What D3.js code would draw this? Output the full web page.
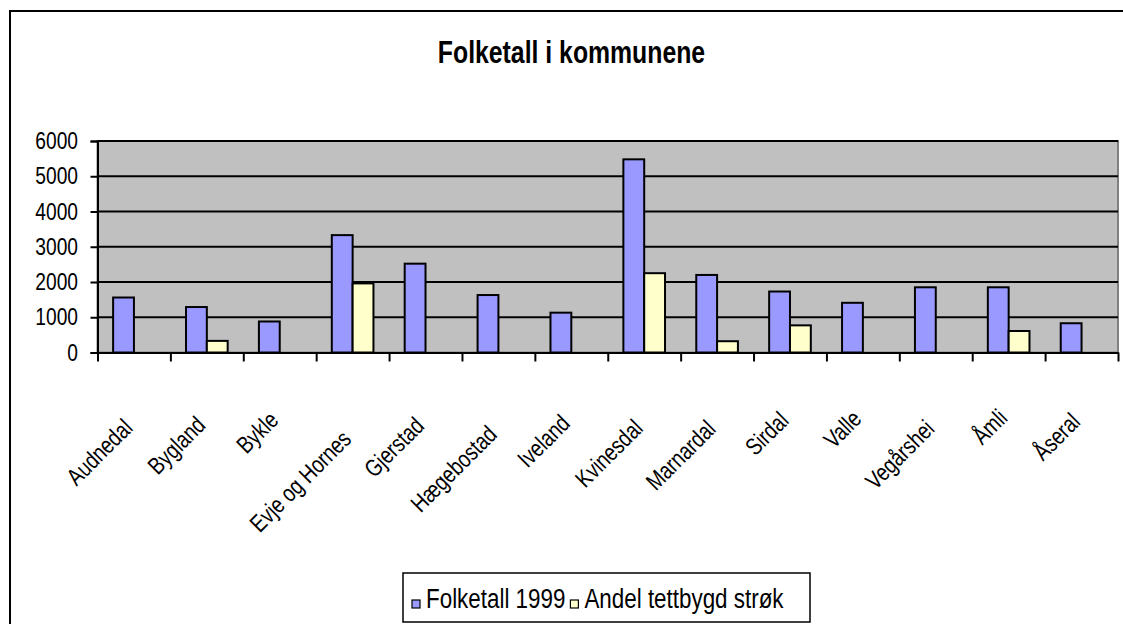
<!DOCTYPE html>
<html>
<head>
<meta charset="utf-8">
<script src="https://cdn.jsdelivr.net/npm/d3@7"></script>
<style>
  body { margin: 0; background: #fff; }
  text { font-family: "Liberation Sans", Arial, sans-serif; fill: #000; }
</style>
</head>
<body>
<div class="chart"></div>
<script>
// data
var categories = ["Audnedal", "Bygland", "Bykle", "Evje og Hornes", "Gjerstad", "Hægebostad", "Iveland",
    "Kvinesdal", "Marnardal", "Sirdal", "Valle", "Vegårshei", "Åmli", "Åseral"];
var folketall = [1560, 1290, 880, 3330, 2520, 1630, 1130, 5480, 2200, 1730, 1410, 1850, 1850, 830];
var andel = [null, 330, null, 1960, null, null, null, 2250, 320, 770, null, null, 610, null];
var seriesNames = ["Folketall 1999", "Andel tettbygd strøk"];
var yTicks = [0, 1000, 2000, 3000, 4000, 5000, 6000];

var colors = ["#9999ff", "#ffffcc"];

// text in the original is condensed sideways
var SX = 0.8;
var svgWidth = 1123;
var svgHeight = 624;

var plot = { left: 97.5, right: 1118, top: 141, bottom: 352.5 };

var svg = d3.select(".chart")
    .append("svg")
    .attr("width", svgWidth)
    .attr("height", svgHeight)
    .style("display", "block");

// outer chart border (runs off the right and bottom)
svg.append("rect")
    .attr("x", 10)
    .attr("y", 11)
    .attr("width", svgWidth)
    .attr("height", svgHeight)
    .attr("fill", "#fff")
    .attr("stroke", "#000")
    .attr("stroke-width", 2);

svg.append("text")
    .attr("transform", `translate(571.5,63)scale(${SX},1)`)
    .attr("text-anchor", "middle")
    .attr("font-size", 31)
    .attr("font-weight", "bold")
    .text("Folketall i kommunene");

var x0 = d3.scaleBand()
    .domain(categories)
    .range([plot.left, plot.right])
    .padding(0);

var x1 = d3.scaleBand()
    .domain(seriesNames)
    .range([0, x0.bandwidth()])
    .paddingInner(0)
    .paddingOuter(0.75);

var xEdge = d3.scaleLinear()
    .domain([0, categories.length])
    .range([plot.left, plot.right]);

var yScale = d3.scaleLinear()
    .domain([0, 6000])
    .range([plot.bottom, plot.top]);

// plot area
svg.append("rect")
    .attr("x", plot.left)
    .attr("y", plot.top)
    .attr("width", plot.right - plot.left)
    .attr("height", plot.bottom - plot.top)
    .attr("fill", "#c0c0c0")
    .attr("stroke", "#808080")
    .attr("stroke-width", 2);

// gridlines
svg.append("g")
    .selectAll("line")
    .data(yTicks.slice(1))
    .enter()
    .append("line")
    .attr("x1", plot.left)
    .attr("x2", plot.right)
    .attr("y1", function (d) { return yScale(d); })
    .attr("y2", function (d) { return yScale(d); })
    .attr("stroke", "#000")
    .attr("stroke-width", 1.8);

// bars
var rows = categories.map(function (c, i) {
    return { cat: c, values: [folketall[i], andel[i]] };
});

var groups = svg.append("g")
    .selectAll("g")
    .data(rows)
    .enter()
    .append("g")
    .attr("transform", function (d) { return `translate(${x0(d.cat)},0)`; });

groups.selectAll("rect")
    .data(function (d) {
        return seriesNames.map(function (s, j) { return { s: s, j: j, v: d.values[j] }; })
            .filter(function (e) { return e.v != null; });
    })
    .enter()
    .append("rect")
    .attr("x", function (d) { return x1(d.s); })
    .attr("y", function (d) { return yScale(d.v); })
    .attr("width", x1.bandwidth())
    .attr("height", function (d) { return yScale(0) - yScale(d.v); })
    .attr("fill", function (d) { return colors[d.j]; })
    .attr("stroke", "#000")
    .attr("stroke-width", 2);

// y axis
var yAxis = d3.axisLeft(yScale)
    .tickValues(yTicks)
    .tickSize(7)
    .tickPadding(12.5)
    .tickFormat(d3.format("d"));

var gy = svg.append("g")
    .attr("transform", `translate(${plot.left},0)`)
    .call(yAxis);
gy.select(".domain").attr("stroke", "#000").attr("stroke-width", 2);
gy.selectAll(".tick line").attr("stroke", "#000").attr("stroke-width", 2);
gy.selectAll(".tick text")
    .attr("font-size", 24)
    .attr("font-family", "Liberation Sans, Arial, sans-serif")
    .attr("transform", function () {
        var tx = +d3.select(this).attr("x");
        d3.select(this).attr("x", 0);
        return `translate(${tx},0)scale(${SX},1)`;
    });

// x axis: ticks between categories
var xAxis = d3.axisBottom(xEdge)
    .tickValues(d3.range(categories.length + 1))
    .tickSize(9)
    .tickSizeOuter(0)
    .tickFormat("");

var gx = svg.append("g")
    .attr("transform", `translate(0,${plot.bottom})`)
    .call(xAxis);
gx.select(".domain").attr("stroke", "#000").attr("stroke-width", 2);
gx.selectAll(".tick line").attr("stroke", "#000").attr("stroke-width", 2);

// rotated category labels, longer ones sit a little lower
svg.append("g")
    .selectAll("text")
    .data(categories)
    .enter()
    .append("text")
    .attr("text-anchor", "end")
    .attr("font-size", 24)
    .text(function (d) { return d; })
    .attr("transform", function (d) {
        var len = this.getComputedTextLength() * SX;
        return `translate(${x0(d) + x0.bandwidth() / 2},${411 + 0.226 * len})rotate(-45)scale(${SX},1)`;
    });

// legend
var legend = svg.append("g");
legend.append("rect")
    .attr("x", 403)
    .attr("y", 573)
    .attr("width", 407)
    .attr("height", 49)
    .attr("fill", "#fff")
    .attr("stroke", "#000")
    .attr("stroke-width", 1.5);

var lx = 412;
seriesNames.forEach(function (s, j) {
    legend.append("rect")
        .attr("x", lx)
        .attr("y", 600)
        .attr("width", 8)
        .attr("height", 8)
        .attr("fill", colors[j])
        .attr("stroke", "#000")
        .attr("stroke-width", 1.2);
    var t = legend.append("text")
        .attr("transform", `translate(${lx + 14},608)scale(${SX},1)`)
        .attr("font-size", 28)
        .text(s);
    lx = lx + 14 + t.node().getComputedTextLength() * SX + 5;
});
</script>
</body>
</html>
